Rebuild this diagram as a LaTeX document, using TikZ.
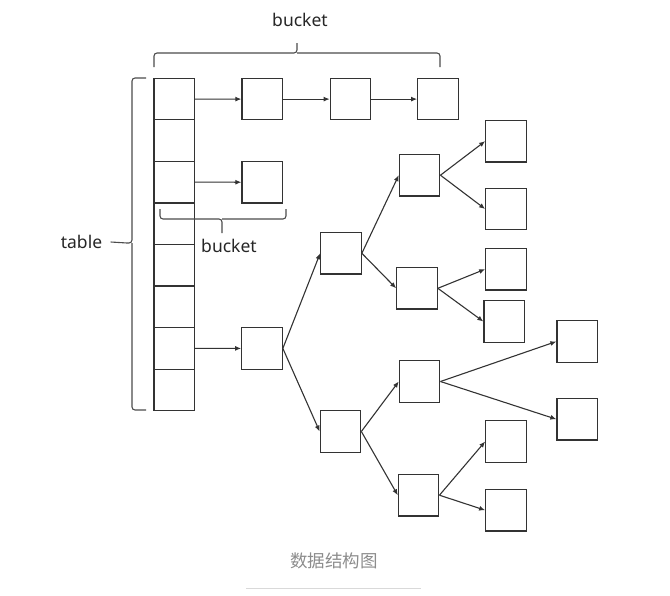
\documentclass[tikz,border=0pt]{standalone}
\usepackage{fontspec}
\setmainfont{Noto Sans}
\newfontfamily\cjk{Noto Sans CJK SC}
\usepackage{xcolor}
\usetikzlibrary{arrows.meta}

\begin{document}
\begin{tikzpicture}[x=1pt, y=-1pt,
  box/.style={draw=black!80, line width=1.2pt, minimum width=40.5pt, minimum height=41.5pt, inner sep=0pt},
  link/.style={draw=black!80, line width=1.1pt, -{Latex[length=6pt,width=5pt]}},
  brace/.style={draw=black!70, line width=1.1pt, rounded corners=3pt},
  lbl/.style={font=\fontsize{17.5}{20}\selectfont, text=black!85}]
  \useasboundingbox (0,0) rectangle (670,595);

  % Draw the table column
  \foreach \i in {1,...,8}
    \node[box] (t\i) at (174.3, 78.3+41.55*\i-20.78) {};

  % Draw the first bucket (linked list)
  \node[box] (b1) at (262.2, 99.1) {};
  \node[box] (b2) at (350.5, 99.1) {};
  \node[box] (b3) at (438, 99.1) {};
  \draw[link] (t1.east) -- (b1.west);
  \draw[link] (b1.east) -- (b2.west);
  \draw[link] (b2.east) -- (b3.west);

  % Draw the second bucket
  \node[box] (c1) at (262.2, 182.2) {};
  \draw[link] (t3.east) -- (c1.west);

  % Draw the tree bucket
  \node[box] (r) at (262, 348.4) {};
  \node[box] (u) at (341, 253.3) {};
  \node[box] (l) at (340.5, 431.5) {};
  \node[box] (ua) at (419.6, 175.2) {};
  \node[box] (ub) at (417, 288.3) {};
  \node[box] (lc) at (419.6, 381.5) {};
  \node[box] (ld) at (418.6, 495.2) {};
  \node[box] (ua1) at (506, 141.2) {};
  \node[box] (ua2) at (506, 209) {};
  \node[box] (ub1) at (506, 269.2) {};
  \node[box] (ub2) at (504.2, 321.5) {};
  \node[box] (lc1) at (577.2, 341.5) {};
  \node[box] (lc2) at (577.2, 419.2) {};
  \node[box] (ld1) at (506, 441.5) {};
  \node[box] (ld2) at (506, 510.2) {};

  \draw[link] (t7.east) -- (r.west);
  \foreach \p/\c in {r/u, r/l, u/ua, u/ub, l/lc, l/ld,
                     ua/ua1, ua/ua2, ub/ub1, ub/ub2, lc/lc1, lc/lc2, ld/ld1, ld/ld2}
    \draw[link] (\p.east) -- (\c.west);

  % Braces and labels
  \draw[brace] (154,67) |- (297,53) -- (297,43);
  \draw[brace] (440,67) |- (297,53);
  \node[lbl] (topb) at (300,20) {bucket};

  \draw[brace] (160,209) |- (222,219) -- (222,233);
  \draw[brace] (286,209) |- (222,219);
  \node[lbl] (midb) at (229,246) {bucket};

  \draw[brace] (146,78) -| (132,243) -- (127,243);
  \draw[brace] (146,410) -| (132,243);
  \node[lbl] (tab) at (81.5,242) {table};
  \draw[draw=black!70, line width=1.1pt] (tab.east) ++(5,0) -- (127,243);

  % Caption
  \node[font=\cjk\fontsize{17.5}{20}\selectfont, text=black!45] (cap) at (334,560.5) {数据结构图};
  \draw[black!15, line width=1pt] (246,588.3) -- (421,588.3);
\end{tikzpicture}
\end{document}
